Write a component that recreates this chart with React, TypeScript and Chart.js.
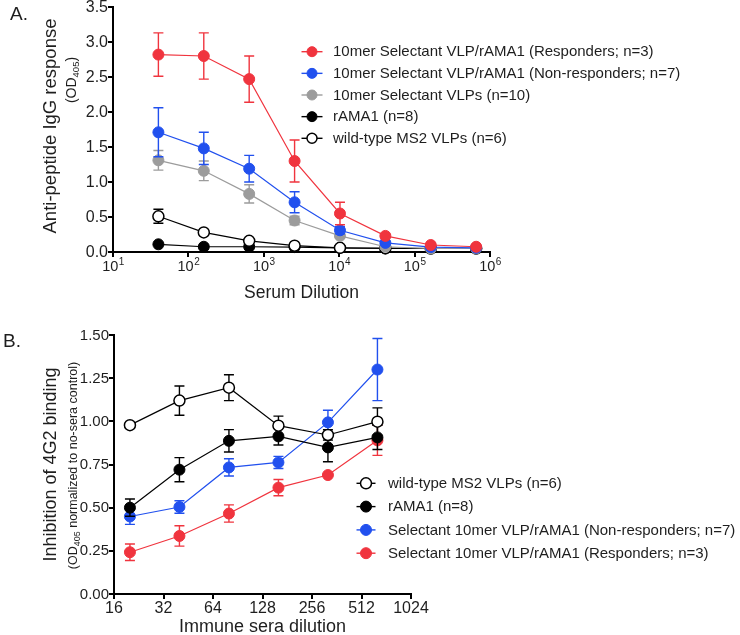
import React, { useEffect, useRef } from 'react';
import { Chart, registerables } from 'chart.js';

Chart.register(...registerables);

const FONT = '"Liberation Sans", Arial, Helvetica, sans-serif';
const TEXT = '#1e1e1e';
const RED = '#F0343E';
const BLUE = '#2150EE';
const GRAY = '#9C9C9C';
const BLACK = '#000000';
const WHITE = '#ffffff';

// ---------------- Panel A data ----------------
const dilutionA = [40, 160, 640, 2560, 10240, 40960, 163840, 655360];
const respMeanA = [2.82, 2.8, 2.47, 1.3, 0.55, 0.23, 0.1, 0.075];
const respErrA = [0.31, 0.33, 0.33, 0.3, 0.16, 0.02, 0.01, 0.01];
const nonRespMeanA = [1.71, 1.48, 1.19, 0.71, 0.31, 0.13, 0.07, 0.06];
const nonRespErrA = [0.35, 0.23, 0.19, 0.15, 0.05, 0.02, 0.01, 0.01];
const vlpMeanA = [1.31, 1.16, 0.83, 0.45, 0.23, 0.075, 0.05, 0.05];
const vlpErrA = [0.14, 0.14, 0.13, 0.06, 0.03, 0.01, 0.01, 0.01];
const ramaMeanA = [0.11, 0.075, 0.075, 0.07, 0.06, 0.05, 0.05, 0.05];
const ramaErrA = [0.01, 0.01, 0.01, 0.01, 0.01, 0.01, 0.01, 0.01];
const wtMeanA = [0.51, 0.28, 0.16, 0.09, 0.06, 0.055, 0.05, 0.05];
const wtErrA = [0.1, 0.02, 0.02, 0.01, 0.01, 0.01, 0.01, 0.01];
const legendLabelsA = [
  '10mer Selectant VLP/rAMA1 (Responders; n=3)',
  '10mer Selectant VLP/rAMA1 (Non-responders; n=7)',
  '10mer Selectant VLPs (n=10)',
  'rAMA1 (n=8)',
  'wild-type MS2 VLPs (n=6)',
];
const xTickValuesA = [10, 100, 1000, 10000, 100000, 1000000];
const xTickBaseA = '10';
const xTickExpA = ['1', '2', '3', '4', '5', '6'];
const yTickValuesA = [0, 0.5, 1, 1.5, 2, 2.5, 3, 3.5];
const yTickLabelsA = ['0.0', '0.5', '1.0', '1.5', '2.0', '2.5', '3.0', '3.5'];

// ---------------- Panel B data ----------------
const dilutionB = [20, 40, 80, 160, 320, 640];
const wtMeanB = [0.978, 1.12, 1.195, 0.975, 0.921, 0.998];
const wtErrB = [0.01, 0.085, 0.075, 0.055, 0.03, 0.08];
const ramaMeanB = [0.5, 0.72, 0.887, 0.913, 0.849, 0.907];
const ramaErrB = [0.05, 0.07, 0.065, 0.05, 0.083, 0.07];
const nonRespMeanB = [0.449, 0.504, 0.733, 0.762, 0.994, 1.3];
const nonRespErrB = [0.046, 0.036, 0.05, 0.035, 0.07, 0.18];
const respMeanB = [0.242, 0.336, 0.466, 0.616, 0.689, 0.89];
const respErrB = [0.048, 0.059, 0.05, 0.047, 0.0, 0.087];
const legendLabelsB = [
  'wild-type MS2 VLPs (n=6)',
  'rAMA1 (n=8)',
  'Selectant 10mer VLP/rAMA1 (Non-responders; n=7)',
  'Selectant 10mer VLP/rAMA1 (Responders; n=3)',
];
const xTickValuesB = [16, 32, 64, 128, 256, 512, 1024];
const xTickLabelsB = ['16', '32', '64', '128', '256', '512', '1024'];
const yTickValuesB = [0, 0.25, 0.5, 0.75, 1, 1.25, 1.5];
const yTickLabelsB = ['0.00', '0.25', '0.50', '0.75', '1.00', '1.25', '1.50'];

// ---------------- helpers ----------------
type Series = {
  label: string;
  x: number[];
  y: number[];
  err: number[];
  color: string;
  fill: string;
  order: number;
};

function buildDataset(s: Series, radius: number) {
  const hollow = s.fill === WHITE;
  return {
    label: s.label,
    data: s.x.map((x, i) => ({ x, y: s.y[i] })),
    errors: s.err,
    errColor: s.color,
    legendFill: s.fill,
    borderColor: s.color,
    backgroundColor: s.fill,
    borderWidth: 1.2,
    pointRadius: radius,
    pointHoverRadius: radius,
    pointBackgroundColor: s.fill,
    pointBorderColor: s.color,
    pointBorderWidth: hollow ? 1.5 : 1,
    order: s.order,
    clip: false,
    tension: 0,
    fill: false,
  };
}

function axis(type: string, min: number, max: number, tickValues: number[], size: number, isX: boolean) {
  return {
    type,
    min,
    max,
    position: isX ? 'bottom' : 'left',
    afterBuildTicks: (s: any) => {
      s.ticks = tickValues.map((v) => ({ value: v }));
    },
    afterFit: (s: any) => {
      if (isX) s.height = size;
      else s.width = size;
    },
    ticks: { display: false },
    grid: {
      display: true,
      drawOnChartArea: false,
      drawTicks: true,
      tickLength: 5,
      tickColor: '#000',
      tickWidth: 2,
      color: '#000',
      lineWidth: 2,
    },
    border: { display: true, color: '#000', width: 2 },
  };
}

const errorBarPlugin = {
  id: 'errorBars',
  beforeDatasetDraw(chart: any, args: any) {
    const ds = chart.data.datasets[args.index];
    const errs: number[] = ds.errors;
    if (!errs) return;
    const ys = chart.scales.y;
    const ctx = chart.ctx;
    ctx.save();
    ctx.strokeStyle = ds.errColor;
    ctx.lineWidth = 1.4;
    args.meta.data.forEach((pt: any, i: number) => {
      const e = errs[i];
      if (!e) return;
      const v = ds.data[i].y;
      const x = pt.x;
      const yt = ys.getPixelForValue(v + e);
      const yb = ys.getPixelForValue(v - e);
      ctx.beginPath();
      ctx.moveTo(x, yt);
      ctx.lineTo(x, yb);
      ctx.moveTo(x - 5, yt);
      ctx.lineTo(x + 5, yt);
      ctx.moveTo(x - 5, yb);
      ctx.lineTo(x + 5, yb);
      ctx.stroke();
    });
    ctx.restore();
  },
};

type Part = { text: string; size: number; dy?: number };

function drawRich(ctx: CanvasRenderingContext2D, parts: Part[], cx: number, cy: number, rotate: boolean, align = 'center') {
  ctx.save();
  ctx.translate(cx, cy);
  if (rotate) ctx.rotate(-Math.PI / 2);
  let total = 0;
  parts.forEach((p) => {
    ctx.font = `${p.size}px ${FONT}`;
    total += ctx.measureText(p.text).width;
  });
  let x = align === 'center' ? -total / 2 : align === 'left' ? 0 : -total;
  ctx.textAlign = 'left';
  ctx.textBaseline = 'alphabetic';
  parts.forEach((p) => {
    ctx.font = `${p.size}px ${FONT}`;
    ctx.fillText(p.text, x, p.dy || 0);
    x += ctx.measureText(p.text).width;
  });
  ctx.restore();
}

function drawLegend(
  chart: any,
  x0: number,
  y0: number,
  dy: number,
  half: number,
  textX: number,
  radius: number,
  size: number
) {
  const ctx = chart.ctx as CanvasRenderingContext2D;
  chart.data.datasets.forEach((ds: any, i: number) => {
    const y = y0 + i * dy;
    ctx.strokeStyle = ds.borderColor;
    ctx.lineWidth = 1.4;
    ctx.beginPath();
    ctx.moveTo(x0 - half, y);
    ctx.lineTo(x0 + half, y);
    ctx.stroke();
    ctx.beginPath();
    ctx.arc(x0, y, radius, 0, Math.PI * 2);
    ctx.fillStyle = ds.legendFill;
    ctx.fill();
    ctx.lineWidth = ds.legendFill === WHITE ? 1.5 : 1;
    ctx.strokeStyle = ds.borderColor;
    ctx.stroke();
    ctx.fillStyle = TEXT;
    ctx.font = `${size}px ${FONT}`;
    ctx.textAlign = 'left';
    ctx.textBaseline = 'middle';
    ctx.fillText(ds.label, textX, y + 0.5);
  });
}

const overlayA = {
  id: 'overlayA',
  afterDraw(chart: any) {
    const ctx = chart.ctx as CanvasRenderingContext2D;
    const xs = chart.scales.x;
    const ys = chart.scales.y;
    const ca = chart.chartArea;
    ctx.save();
    ctx.fillStyle = TEXT;
    ctx.font = `16px ${FONT}`;
    ctx.textAlign = 'right';
    ctx.textBaseline = 'middle';
    yTickValuesA.forEach((v, i) => ctx.fillText(yTickLabelsA[i], ca.left - 5, ys.getPixelForValue(v) + 0.5));
    xTickValuesA.forEach((v, i) => {
      const px = xs.getPixelForValue(v);
      ctx.font = `14.5px ${FONT}`;
      const w1 = ctx.measureText(xTickBaseA).width;
      ctx.font = `10px ${FONT}`;
      const w2 = ctx.measureText(xTickExpA[i]).width;
      const x = px - (w1 + w2) / 2;
      ctx.textAlign = 'left';
      ctx.textBaseline = 'alphabetic';
      ctx.font = `14.5px ${FONT}`;
      ctx.fillText(xTickBaseA, x, ca.bottom + 19);
      ctx.font = `10px ${FONT}`;
      ctx.fillText(xTickExpA[i], x + w1 + 0.5, ca.bottom + 13);
    });
    drawRich(ctx, [{ text: 'Anti-peptide IgG response', size: 18.5 }], 56, 126, true);
    drawRich(
      ctx,
      [
        { text: '(OD', size: 14 },
        { text: '405', size: 9.5, dy: 3 },
        { text: ')', size: 14 },
      ],
      75.5,
      80,
      true
    );
    drawRich(ctx, [{ text: 'Serum Dilution', size: 17.5 }], (ca.left + ca.right) / 2, 298, false);
    drawRich(ctx, [{ text: 'A.', size: 19 }], 10, 20, false, 'left');
    drawLegend(chart, 312, 51.7, 21.65, 10.5, 333, 5, 15);
    ctx.restore();
  },
};

const overlayB = {
  id: 'overlayB',
  afterDraw(chart: any) {
    const ctx = chart.ctx as CanvasRenderingContext2D;
    const xs = chart.scales.x;
    const ys = chart.scales.y;
    const ca = chart.chartArea;
    ctx.save();
    ctx.fillStyle = TEXT;
    ctx.font = `15px ${FONT}`;
    ctx.textAlign = 'right';
    ctx.textBaseline = 'middle';
    yTickValuesB.forEach((v, i) => ctx.fillText(yTickLabelsB[i], ca.left - 5, ys.getPixelForValue(v) + 0.5));
    ctx.font = `16px ${FONT}`;
    ctx.textAlign = 'center';
    ctx.textBaseline = 'alphabetic';
    xTickValuesB.forEach((v, i) => ctx.fillText(xTickLabelsB[i], xs.getPixelForValue(v), ca.bottom + 19));
    drawRich(ctx, [{ text: 'Inhibition of 4G2 binding', size: 18 }], 56, (ca.top + ca.bottom) / 2, true);
    drawRich(
      ctx,
      [
        { text: '(OD', size: 12.5 },
        { text: '405', size: 9, dy: 3 },
        { text: ' normalized to no-sera control)', size: 12.5 },
      ],
      77,
      (ca.top + ca.bottom) / 2 + 1,
      true
    );
    drawRich(ctx, [{ text: 'Immune sera dilution', size: 18 }], (ca.left + ca.right) / 2, 327, false);
    drawRich(ctx, [{ text: 'B.', size: 19 }], 3, 42, false, 'left');
    drawLegend(chart, 366, 178.3, 23.3, 9.5, 388, 5.5, 15);
    ctx.restore();
  },
};

function makeChart(canvas: HTMLCanvasElement, panel: 'A' | 'B') {
  const isA = panel === 'A';
  const seriesA: Series[] = [
    { label: legendLabelsA[0], x: dilutionA, y: respMeanA, err: respErrA, color: RED, fill: RED, order: 0 },
    { label: legendLabelsA[1], x: dilutionA, y: nonRespMeanA, err: nonRespErrA, color: BLUE, fill: BLUE, order: 1 },
    { label: legendLabelsA[2], x: dilutionA, y: vlpMeanA, err: vlpErrA, color: GRAY, fill: GRAY, order: 2 },
    { label: legendLabelsA[3], x: dilutionA, y: ramaMeanA, err: ramaErrA, color: BLACK, fill: BLACK, order: 4 },
    { label: legendLabelsA[4], x: dilutionA, y: wtMeanA, err: wtErrA, color: BLACK, fill: WHITE, order: 3 },
  ];
  const seriesB: Series[] = [
    { label: legendLabelsB[0], x: dilutionB, y: wtMeanB, err: wtErrB, color: BLACK, fill: WHITE, order: 0 },
    { label: legendLabelsB[1], x: dilutionB, y: ramaMeanB, err: ramaErrB, color: BLACK, fill: BLACK, order: 1 },
    { label: legendLabelsB[2], x: dilutionB, y: nonRespMeanB, err: nonRespErrB, color: BLUE, fill: BLUE, order: 2 },
    { label: legendLabelsB[3], x: dilutionB, y: respMeanB, err: respErrB, color: RED, fill: RED, order: 3 },
  ];
  const datasets = (isA ? seriesA : seriesB).map((s) => buildDataset(s, 5.5));
  const config: any = {
    type: 'line',
    data: { datasets },
    options: {
      responsive: false,
      maintainAspectRatio: false,
      animation: false,
      events: [],
      layout: isA
        ? { padding: { left: 0, top: 5, right: 250, bottom: 0 } }
        : { padding: { left: 0, top: 30, right: 329, bottom: 0 } },
      plugins: { legend: { display: false }, tooltip: { enabled: false }, title: { display: false } },
      scales: isA
        ? {
            x: axis('logarithmic', 10, 1000000, xTickValuesA, 53, true),
            y: axis('linear', 0, 3.5, yTickValuesA, 113, false),
          }
        : {
            x: axis('logarithmic', 16, 1024, xTickValuesB, 41, true),
            y: axis('linear', 0, 1.5, yTickValuesB, 114, false),
          },
    },
    plugins: [errorBarPlugin, isA ? overlayA : overlayB],
  };
  return new Chart(canvas, config);
}

export default function App() {
  const refA = useRef<HTMLCanvasElement | null>(null);
  const refB = useRef<HTMLCanvasElement | null>(null);

  useEffect(() => {
    const a = refA.current ? makeChart(refA.current, 'A') : null;
    const b = refB.current ? makeChart(refB.current, 'B') : null;
    return () => {
      if (a) a.destroy();
      if (b) b.destroy();
    };
  }, []);

  return (
    <div style={{ position: 'fixed', left: 0, top: 0, width: 740, height: 635, background: '#fff' }}>
      <canvas
        ref={refA}
        width={740}
        height={305}
        style={{ position: 'absolute', left: 0, top: 0, width: 740, height: 305, display: 'block' }}
      />
      <canvas
        ref={refB}
        width={740}
        height={330}
        style={{ position: 'absolute', left: 0, top: 305, width: 740, height: 330, display: 'block' }}
      />
    </div>
  );
}
